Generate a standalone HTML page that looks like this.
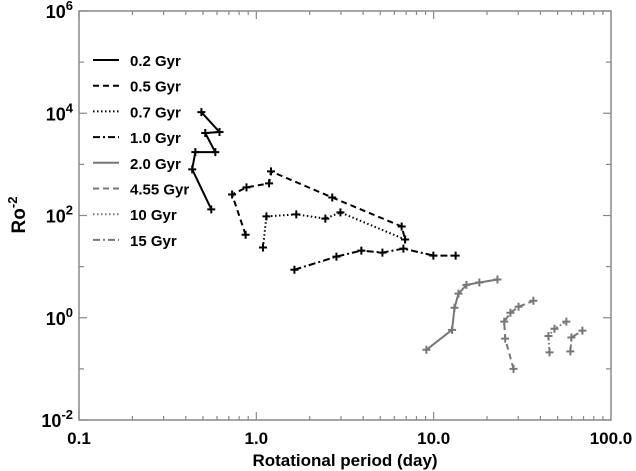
<!DOCTYPE html>
<html><head><meta charset="utf-8"><style>
body{margin:0;background:#fff}
svg{display:block;font-family:"Liberation Sans",Arial,sans-serif;font-weight:bold}
</style></head><body>
<svg id="c" width="636" height="471"></svg>
<script>
const seriesNames=["0.2 Gyr","0.5 Gyr","0.7 Gyr","1.0 Gyr","2.0 Gyr","4.55 Gyr","10 Gyr","15 Gyr"];
const p02=[0.49,0.62,0.515,0.587,0.453,0.435,0.557];
const r02=[10500,4300,4100,1740,1740,800,132];
const p05=[0.87,0.73,0.88,1.18,1.21,2.68,6.6,6.9];
const r05=[42,258,355,424,730,225,61,34];
const p07=[1.09,1.14,1.68,2.45,2.98,6.9];
const r07=[23.6,96,105,87,115,34];
const p10=[1.64,2.83,3.91,5.14,6.75,9.96,13.3];
const r10=[8.7,15.7,20.6,18.8,22.5,16.4,16.4];
const p20=[9.1,12.7,13.1,13.8,15.3,18.1,22.9];
const r20=[0.236,0.58,1.57,2.96,4.4,4.9,5.6];
const p455=[28.2,25.3,25.0,27.1,30.1,36.5];
const r455=[0.1,0.39,0.84,1.25,1.64,2.15];
const p100=[45,44.4,48,56];
const r100=[0.21,0.44,0.61,0.84];
const p150=[59,59.8,69];
const r150=[0.22,0.41,0.56];
const xTickLabels=["0.1","1.0","10.0","100.0"];
const yTickExps=[-2,0,2,4,6];

const L=79,R=611,T=11,B=420;
const X=v=>L+(Math.log10(v)+1)/3*(R-L);
const Y=v=>B-(Math.log10(v)+2)/8*(B-T);
const ns="http://www.w3.org/2000/svg";
const svg=document.getElementById('c');
function mk(t,a,p){const e=document.createElementNS(ns,t);for(const k in a)e.setAttribute(k,a[k]);(p||svg).appendChild(e);return e;}

const styles=[
 {c:"#000",d:""},{c:"#000",d:"6,4"},{c:"#000",d:"1.5,2.5"},{c:"#000",d:"7,3,2,3"},
 {c:"#777",d:""},{c:"#777",d:"6,4"},{c:"#777",d:"1.5,2.5"},{c:"#777",d:"7,3,2,3"}];
const data=[[p02,r02],[p05,r05],[p07,r07],[p10,r10],[p20,r20],[p455,r455],[p100,r100],[p150,r150]];

const ax=mk('rect',{x:L,y:T,width:R-L,height:B-T,fill:'none',stroke:'#888','stroke-width':1.5});


for(let d=-1;d<2;d++){for(let m=1;m<10;m++){const v=m*Math.pow(10,d);const x=X(v);const len=m===1?8:4;
 mk('line',{x1:x,x2:x,y1:B,y2:B-len,stroke:'#888','stroke-width':1.2});
 mk('line',{x1:x,x2:x,y1:T,y2:T+len,stroke:'#888','stroke-width':1.2});}}
xTickLabels.forEach((s,i)=>{const t=mk('text',{x:X(Math.pow(10,i-1)),y:444,'font-size':17,'text-anchor':'middle'});t.textContent=s;
 
 });
for(let e=-2;e<=6;e++){const y=Y(Math.pow(10,e));const len=e%2===0?8:5;
 mk('line',{x1:L,x2:L+len,y1:y,y2:y,stroke:'#888','stroke-width':1.2});
 mk('line',{x1:R,x2:R-len,y1:y,y2:y,stroke:'#888','stroke-width':1.2});}
yTickExps.forEach(e=>{const t=mk('text',{x:73,y:Y(Math.pow(10,e))+7,'font-size':18,'text-anchor':'end'});
 t.innerHTML='10<tspan dy="-8" font-size="13">'+e+'</tspan>';
 
 });
let xt=mk('text',{x:345,y:466,'font-size':17,'text-anchor':'middle'});xt.textContent="Rotational period (day)";


let yt=mk('text',{x:0,y:0,'font-size':19,'text-anchor':'middle',transform:'translate(25,215) rotate(-90)'});
yt.innerHTML='Ro<tspan dy="-8" font-size="13">-2</tspan>';



data.forEach((s,i)=>{const g=mk('g',{});
 
 
 const pts=s[0].map((p,j)=>X(p).toFixed(1)+','+Y(s[1][j]).toFixed(1)).join(' ');
 mk('polyline',{points:pts,fill:'none',stroke:styles[i].c,'stroke-width':2,'stroke-dasharray':styles[i].d},g);
 s[0].forEach((p,j)=>{const x=X(p),y=Y(s[1][j]);
  mk('path',{d:`M${x-4},${y}H${x+4}M${x},${y-4}V${y+4}`,stroke:styles[i].c,'stroke-width':2},g);});
 const ly=60+i*25.7;
 const lg=mk('g',{},svg);
 
 
 mk('line',{x1:93,x2:119,y1:ly,y2:ly,stroke:styles[i].c,'stroke-width':2,'stroke-dasharray':styles[i].d},lg);
 const t=mk('text',{x:130,y:ly+6,'font-size':15},lg);t.textContent=seriesNames[i];
});
</script>
</body></html>
